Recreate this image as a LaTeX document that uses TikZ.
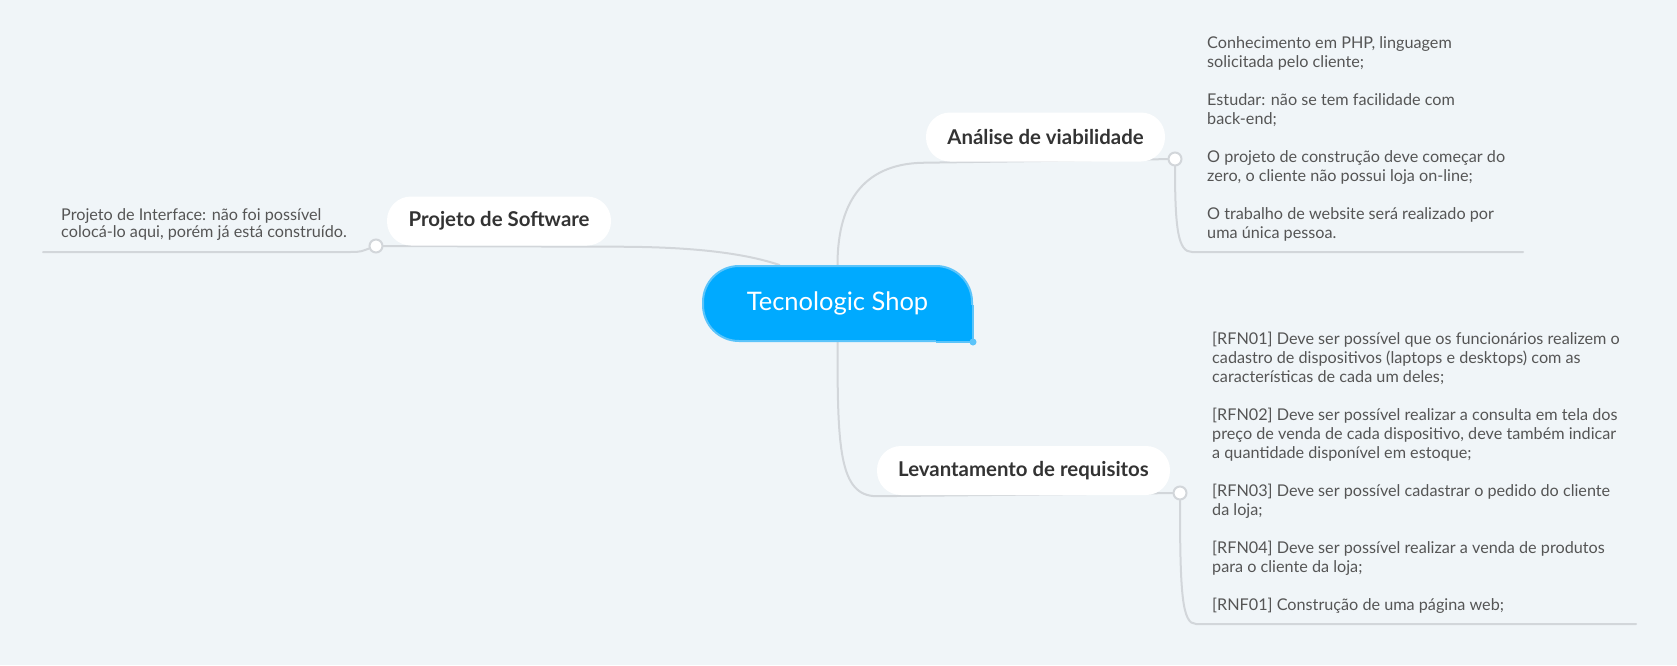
\documentclass[tikz,border=0pt]{standalone}
\usepackage{fontspec}
\setmainfont{Lato}
\usepackage{tikz}
\pgfdeclarelayer{background}
\pgfsetlayers{background,main}

\definecolor{canvas}{RGB}{240,245,248}
\definecolor{hubblue}{RGB}{0,170,255}
\definecolor{hubedge}{RGB}{92,196,250}
\definecolor{branchgrey}{RGB}{210,214,218}
\definecolor{topictext}{RGB}{51,51,51}
\definecolor{leaftext}{RGB}{85,85,85}

\tikzset{
    hub/.style={fill=hubblue, draw=hubedge, line width=2pt, text=white, inner sep=0pt,
        minimum width=269pt, minimum height=75pt, rounded corners=36pt,
        font=\fontsize{25.5}{30}\selectfont},
    topic/.style={fill=white, rounded corners=24pt, minimum height=49pt, inner sep=0pt,
        text=topictext, font=\bfseries\fontsize{20.4}{24}\selectfont},
    leaf/.style={align=left, inner sep=0pt, anchor=base west, text=leaftext,
        font=\fontsize{16.2}{19}\selectfont},
    joint/.style={circle, fill=white, draw=branchgrey, line width=2pt,
        minimum size=13pt, inner sep=0pt},
    branch/.style={draw=branchgrey, line width=2pt, line cap=round}
}

\begin{document}
\begin{tikzpicture}[x=1pt, y=-1pt]
    % Central topic
    \node[hub] (shop) at (837.5,303.5) {Tecnologic Shop};
    % square corner with the small dot
    \fill[hubblue] ([xshift=-37pt,yshift=37pt]shop.south east) rectangle (shop.south east);
    \draw[hubedge, line width=2pt] ([yshift=37pt]shop.south east) -- (shop.south east) -- ([xshift=-37pt]shop.south east);
    \fill[hubedge] (shop.south east) circle (3.5pt);

    % Main branches
    \node[topic, minimum width=239pt] (viab) at (1045.5,137) {Análise de viabilidade};
    \node[topic, minimum width=224pt] (soft) at (499,221) {Projeto de Software};
    \node[topic, minimum width=293pt] (req) at (1023.5,470.5) {Levantamento de requisitos};

    % Joints at the end of each branch
    \foreach \name/\x/\y in {jviab/1175/159, jsoft/376/246, jreq/1180/493}
        \node[joint] (\name) at (\x,\y) {};

    % Free ends of the underlines
    \coordinate (eviab) at (1523,252);
    \coordinate (esoft) at (43,252);
    \coordinate (ereq) at (1636,624);

    % Leaf texts (placed at the baseline of their last line)
    \node[leaf] (tviab) at (1207,238) {Conhecimento em PHP, linguagem\\
        solicitada pelo cliente;\\[19pt]
        Estudar: não se tem facilidade com\\
        back-end;\\[19pt]
        O projeto de construção deve começar do\\
        zero, o cliente não possui loja on-line;\\[19pt]
        O trabalho de website será realizado por\\
        uma única pessoa.};
    \node[leaf, font=\fontsize{16.2}{17}\selectfont] (tsoft) at (61,237) {Projeto de Interface: não foi possível\\
        colocá-lo aqui, porém já está construído.};
    \node[leaf] (treq) at (1212,610) {[RFN01] Deve ser possível que os funcionários realizem o\\
        cadastro de dispositivos (laptops e desktops) com as\\
        características de cada um deles;\\[19pt]
        [RFN02] Deve ser possível realizar a consulta em tela dos\\
        preço de venda de cada dispositivo, deve também indicar\\
        a quantidade disponível em estoque;\\[19pt]
        [RFN03] Deve ser possível cadastrar o pedido do cliente\\
        da loja;\\[19pt]
        [RFN04] Deve ser possível realizar a venda de produtos\\
        para o cliente da loja;\\[19pt]
        [RNF01] Construção de uma página web;};

    % Connectors, behind everything
    \begin{pgfonlayer}{background}
        \fill[canvas] (0,0) rectangle (1677,665);
        \draw[branch] (shop.north) .. controls +(0,-68) and +(-58,0) .. ([yshift=-1pt]viab.south west) -- (jviab);
        \draw[branch] (shop.south) .. controls +(0,105) and +(-38,0) .. ([yshift=-1pt]req.south west) -- (jreq);
        \draw[branch] ([xshift=-58pt]shop.north) .. controls +(-50,-17) and +(45,0) .. ([yshift=-1pt]soft.south east) -- (jsoft);
        \draw[branch] (jviab) .. controls +(0,70) and +(-14,0) .. (1192,252) -- (eviab);
        \draw[branch] (jreq) .. controls +(0,100) and +(-14,0) .. (1196,624) -- (ereq);
        \draw[branch] (jsoft) .. controls +(-14,5) and +(12,0) .. (350,252) -- (esoft);
    \end{pgfonlayer}
\end{tikzpicture}
\end{document}
